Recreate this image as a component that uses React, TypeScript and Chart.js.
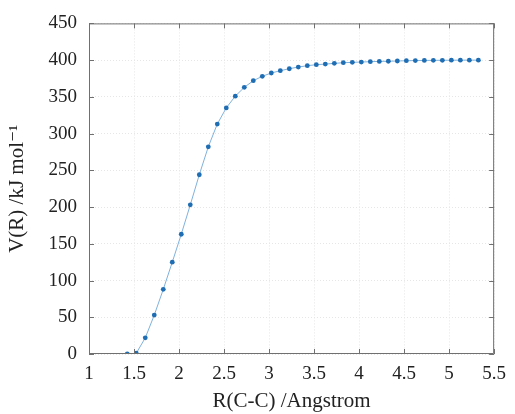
import React, { useEffect, useRef } from "react";
import { Chart, registerables } from "chart.js";

Chart.register(...registerables);

const rValues = [
  1.425, 1.525, 1.625, 1.725, 1.825, 1.925, 2.025, 2.125, 2.225, 2.325,
  2.425, 2.525, 2.625, 2.725, 2.825, 2.925, 3.025, 3.125, 3.225, 3.325,
  3.425, 3.525, 3.625, 3.725, 3.825, 3.925, 4.025, 4.125, 4.225, 4.325,
  4.425, 4.525, 4.625, 4.725, 4.825, 4.925, 5.025, 5.125, 5.225, 5.325,
];
const vValues = [
  0, 1, 22, 53, 88, 125, 163, 203, 244, 282,
  313, 335, 351, 363, 372, 378, 382.5, 385.6, 388.3, 390.6,
  392.4, 393.8, 394.6, 395.6, 396.5, 397, 397.4, 397.9, 398.3, 398.5,
  398.8, 399.2, 399.4, 399.6, 399.7, 399.8, 399.9, 400, 400, 400,
];
const xTitle = "R(C-C) /Angstrom";
const yTitle = "V(R) /kJ mol\u207B\u00B9";

const FONT = "'Liberation Serif', 'DejaVu Serif', serif";

const framePlugin = {
  id: "frameTicks",
  afterDatasetsDraw(chart: any) {
    const { ctx, chartArea: a, scales } = chart;
    ctx.save();
    ctx.strokeStyle = "#707070";
    ctx.lineWidth = 1;
    ctx.beginPath();
    ctx.rect(a.left + 0.5, a.top + 0.5, a.right - a.left - 1, a.bottom - a.top - 1);
    ctx.stroke();
    const L = 5;
    ctx.beginPath();
    for (const t of scales.x.ticks) {
      const px = Math.round(scales.x.getPixelForValue(t.value)) + 0.5;
      ctx.moveTo(px, a.bottom);
      ctx.lineTo(px, a.bottom - L);
      ctx.moveTo(px, a.top);
      ctx.lineTo(px, a.top + L);
    }
    for (const t of scales.y.ticks) {
      const py = Math.round(scales.y.getPixelForValue(t.value)) + 0.5;
      ctx.moveTo(a.left, py);
      ctx.lineTo(a.left + L, py);
      ctx.moveTo(a.right, py);
      ctx.lineTo(a.right - L, py);
    }
    ctx.stroke();
    ctx.restore();
  },
};

export default function App() {
  const ref = useRef<HTMLCanvasElement | null>(null);
  useEffect(() => {
    if (!ref.current) return;
    const chart = new Chart(ref.current, {
      type: "scatter",
      data: {
        datasets: [
          {
            data: rValues.map((x, i) => ({ x, y: vValues[i] })),
            showLine: true,
            borderColor: "#7fb2dd",
            borderWidth: 1,
            pointRadius: 2.4,
            pointBackgroundColor: "#1f6db3",
            pointBorderColor: "#1f6db3",
            pointBorderWidth: 0,
          },
        ],
      },
      options: {
        animation: false,
        responsive: false,
        layout: { padding: { top: 23, right: 13, left: 0, bottom: 0 } },
        plugins: { legend: { display: false }, tooltip: { enabled: false } },
        scales: {
          x: {
            type: "linear",
            min: 1,
            max: 5.5,
            ticks: {
              stepSize: 0.5,
              padding: 9,
              color: "#222",
              font: { family: FONT, size: 19 },
              maxRotation: 0,
              callback: (v: any) => String(+v),
            },
            grid: { color: "#e6e6e6", drawTicks: false },
            border: { display: false, dash: [1, 2] },
            title: { display: true, text: xTitle, color: "#222", font: { family: FONT, size: 21 }, padding: { top: 0, bottom: 0 } },
            afterFit: (s: any) => { s.height = 60; },
          },
          y: {
            type: "linear",
            min: 0,
            max: 450,
            ticks: {
              stepSize: 50,
              padding: 12,
              color: "#222",
              font: { family: FONT, size: 19 },
              callback: (v: any) => String(+v),
            },
            grid: { color: "#e6e6e6", drawTicks: false },
            border: { display: false, dash: [1, 2] },
            title: { display: true, text: yTitle, color: "#222", font: { family: FONT, size: 21 }, padding: { top: 5, bottom: 0 } },
            afterFit: (s: any) => { s.width = 89; },
          },
        },
      },
      plugins: [framePlugin],
    });
    return () => chart.destroy();
  }, []);
  return (
    <div style={{ position: "absolute", left: 0, top: 0, width: 515, height: 414, background: "#fff" }}>
      <canvas ref={ref} width={515} height={414} />
    </div>
  );
}
